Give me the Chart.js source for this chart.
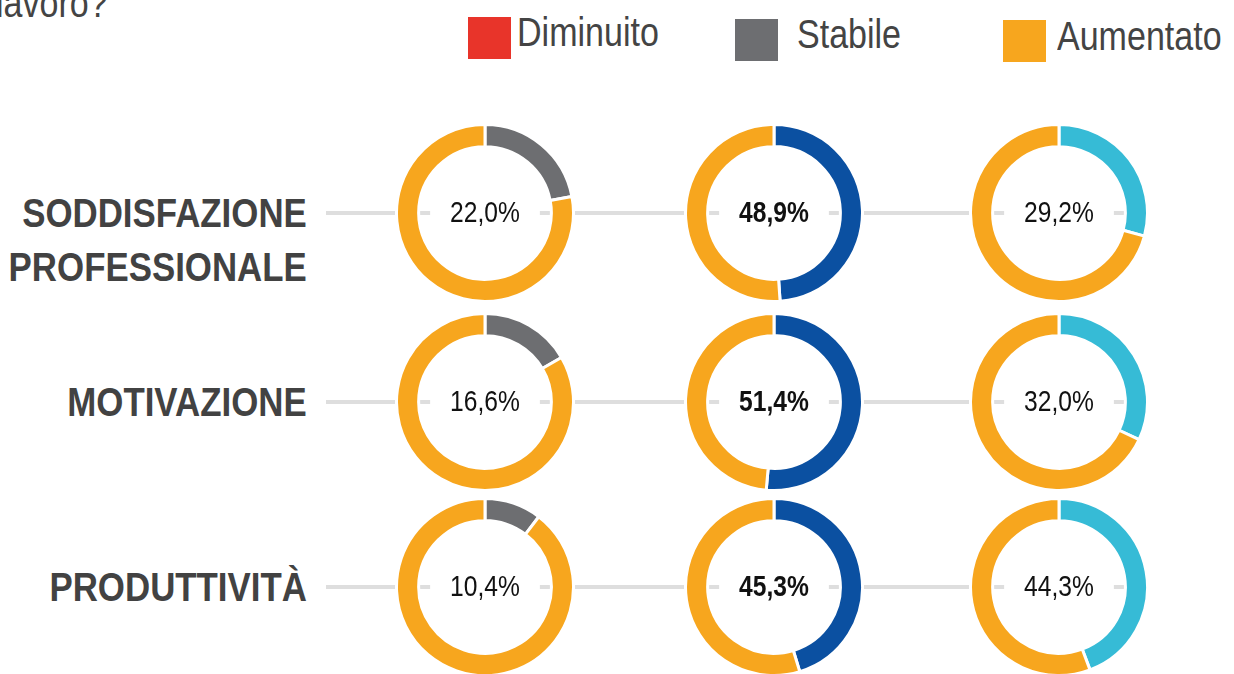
<!DOCTYPE html>
<html>
<head>
<meta charset="utf-8">
<script src="https://cdn.jsdelivr.net/npm/chart.js@4.4.0/dist/chart.umd.min.js"></script>
<style>
  body { margin: 0; background: #fff; }
  #wrap {
    position: relative; width: 1234px; height: 674px; overflow: hidden;
    font-family: 'Liberation Sans', Arial, sans-serif;
    color: #444;
  }
  .abs { position: absolute; white-space: nowrap; }
  .narrowL { transform: scaleX(0.83); transform-origin: left center; }
  .narrowR { transform: scaleX(0.85); transform-origin: right center; }
  .rowlabel { font-weight: bold; font-size: 41px; line-height: 54px; text-align: right; color: #424242; }
  .legtxt { font-size: 41px; line-height: 41px; color: #444; }
  .sq { width: 43px; height: 42px; }
  .conn { height: 4px; background: #dedede; }
  canvas { position: absolute; }
</style>
</head>
<body>
<div id="wrap">
  <div class="abs legtxt narrowL" style="left:-4px; top:-17px;">lavoro?</div>
</div>
<script>
// dati
const rowLabels = [['SODDISFAZIONE', 'PROFESSIONALE'], ['MOTIVAZIONE'], ['PRODUTTIVITÀ']]
const legendLabels = ['Diminuito', 'Stabile', 'Aumentato']
const legendColors = ['#E8342A', '#6D6E71', '#F7A61E']
const colColors = ['#6D6E71', '#0B50A1', '#36BBD6']
const restColor = '#F7A61E'
const col1Values = [22.0, 16.6, 10.4]
const col2Values = [48.9, 51.4, 45.3]
const col3Values = [29.2, 32.0, 44.3]
const boldCols = [false, true, false]

// layout
const colX = [485, 774, 1059]
const rowY = [213, 402, 587]
const SIZE = 180
const legendX = [468, 735, 1003]
const legendTextX = [517, 797, 1057]

const wrap = document.getElementById('wrap')
const columns = [col1Values, col2Values, col3Values]

// legenda
legendLabels.forEach((lbl, i) => {
  const sq = document.createElement('div')
  sq.className = 'abs sq'
  sq.style.left = legendX[i] + 'px'
  sq.style.top = (17 + i * 1.5) + 'px'
  sq.style.background = legendColors[i]
  wrap.appendChild(sq)
  const t = document.createElement('div')
  t.className = 'abs legtxt narrowL'
  t.style.left = legendTextX[i] + 'px'
  t.style.top = (12 + i * 2) + 'px'
  t.textContent = lbl
  wrap.appendChild(t)
})

// etichette e linee
rowLabels.forEach((lines, r) => {
  const line = document.createElement('div')
  line.className = 'abs conn'
  line.style.left = '326px'
  line.style.width = '800px'
  line.style.top = (rowY[r] - 2) + 'px'
  wrap.appendChild(line)

  const lab = document.createElement('div')
  lab.className = 'abs rowlabel narrowR'
  lab.style.right = (1234 - 307) + 'px'
  lab.style.top = (rowY[r] - 27) + 'px'
  lab.innerHTML = lines.join('<br>')
  wrap.appendChild(lab)
})

const fmt = (v) => v.toFixed(1).replace('.', ',') + '%'

const centerText = {
  id: 'centerText',
  afterDraw(chart, args, opts) {
    const ctx = chart.ctx
    const arc = chart.getDatasetMeta(0).data[0]
    const cx = arc.x
    const cy = arc.y
    ctx.save()
    ctx.font = (opts.bold ? 'bold ' : '') + '30px "Liberation Sans", Arial, sans-serif'
    const w = ctx.measureText(opts.text).width * 0.82
    ctx.fillStyle = '#fff'
    ctx.fillRect(cx - w / 2 - 20, cy - 20, w + 40, 40)
    ctx.translate(cx, cy + 1)
    ctx.scale(0.82, 1)
    ctx.fillStyle = '#111'
    ctx.textAlign = 'center'
    ctx.textBaseline = 'middle'
    ctx.fillText(opts.text, 0, 0)
    ctx.restore()
  },
}

columns.forEach((vals, c) => {
  vals.forEach((v, r) => {
    const cv = document.createElement('canvas')
    cv.width = SIZE
    cv.height = SIZE
    cv.style.left = (colX[c] - SIZE / 2) + 'px'
    cv.style.top = (rowY[r] - SIZE / 2) + 'px'
    wrap.appendChild(cv)
    new Chart(cv.getContext('2d'), {
      type: 'doughnut',
      plugins: [centerText],
      data: {
        labels: [legendLabels[c], ''],
        datasets: [
          {
            data: [v, 100 - v],
            backgroundColor: [colColors[c], restColor],
            borderColor: '#fff',
            borderWidth: 3,
          },
        ],
      },
      options: {
        responsive: false,
        animation: false,
        cutout: '75%',
        layout: { padding: 0 },
        events: [],
        plugins: {
          legend: { display: false },
          tooltip: { enabled: false },
          centerText: { text: fmt(v), bold: boldCols[c] },
        },
      },
    })
  })
})
</script>
</body>
</html>
